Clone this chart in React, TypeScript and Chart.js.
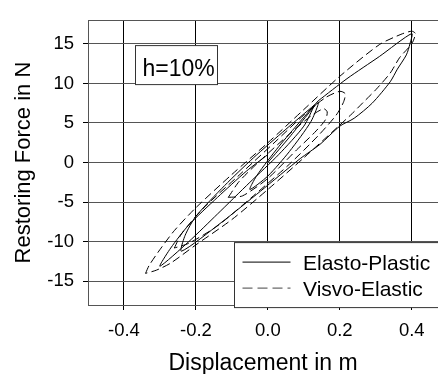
import React, { useEffect, useRef } from 'react';
import { Chart, registerables } from 'chart.js';

Chart.register(...registerables);

// ---- axis / labels ----
const xTickValues = [-0.4, -0.2, 0.0, 0.2, 0.4];
const yTickValues = [-15, -10, -5, 0, 5, 10, 15];
const xMin = -0.5;
const xMax = 0.473;
const yMin = -18;
const yMax = 18;
const xTitle = 'Displacement in m';
const yTitle = 'Restoring Force in N';
const seriesNames = ['Elasto-Plastic', 'Visvo-Elastic'];
const annotationText = 'h=10%';

// ---- Elasto-Plastic (solid) loops: [displacement, force] ----
const epInner: [number, number][] = [
  [0.0, 0.0], [0.06, 3.2], [0.14, 7.6], [0.12, 5.2], [0.06, 1.4], [0.0, -1.7],
  [-0.05, -3.4], [-0.03, -1.6], [0.03, 2.0], [0.09, 5.2], [0.14, 7.8],
];
const epMain: [number, number][] = [
  [0.14, 7.8], [0.22, 10.6], [0.31, 13.4], [0.4, 16.3], [0.395, 15.0], [0.385, 13.6],
  [0.36, 11.8], [0.34, 10.2], [0.29, 7.5], [0.24, 5.6], [0.2, 4.6], [0.145, 2.3],
  [0.09, 0.5], [-0.02, -3.6], [-0.13, -7.6], [-0.24, -11.2], [-0.23, -9.2],
  [-0.2, -6.8], [-0.12, -2.9], [-0.04, 0.6], [0.05, 4.2], [0.13, 7.3],
];
const epReturn: [number, number][] = [
  [0.13, 7.3], [0.1, 4.6], [0.03, 1.0], [-0.05, -2.5], [-0.14, -6.5], [-0.22, -10.0],
  [-0.3, -13.1], [-0.27, -10.8], [-0.22, -7.9], [-0.14, -4.4], [-0.06, -1.1], [0.0, 1.0],
];

// ---- Visvo-Elastic (dashed) loops ----
const veOuter: [number, number][] = [
  [-0.34, -14.0], [-0.33, -13.0], [-0.3, -11.0], [-0.26, -8.6], [-0.2, -5.7], [-0.1, -1.5],
  [0.0, 2.5], [0.1, 6.7], [0.2, 10.9], [0.31, 14.9], [0.37, 16.2], [0.4, 16.6], [0.41, 16.3],
  [0.4, 15.0], [0.367, 13.3], [0.34, 11.3], [0.3, 9.2], [0.265, 7.6], [0.23, 6.0], [0.1, 0.6],
  [0.0, -3.4], [-0.1, -7.2], [-0.2, -10.4], [-0.27, -12.7], [-0.31, -13.6], [-0.34, -14.0],
];
const veMid: [number, number][] = [
  [-0.26, -10.8], [-0.24, -9.0], [-0.18, -5.8], [-0.08, -1.6], [0.02, 2.6], [0.1, 6.0],
  [0.16, 8.2], [0.2, 9.0], [0.215, 8.7], [0.21, 7.6], [0.19, 6.0], [0.14, 3.4], [0.06, -0.2],
  [-0.04, -4.2], [-0.14, -8.0], [-0.22, -10.2], [-0.26, -10.8],
];
const veSmall: [number, number][] = [
  [-0.11, -4.4], [-0.08, -2.4], [-0.02, 0.3], [0.06, 3.6], [0.12, 5.9], [0.155, 6.8],
  [0.165, 6.4], [0.16, 5.4], [0.13, 3.8], [0.08, 1.6], [0.0, -2.0], [-0.07, -4.2], [-0.11, -4.4],
];

const FONT = '"Liberation Sans", Arial, Helvetica, sans-serif';
const DASH = [8, 4];

const toPts = (arr: [number, number][]) => arr.map(([x, y]) => ({ x, y }));

const overlayPlugin = {
  id: 'overlay',
  afterDatasetsDraw(chart: any) {
    const { ctx, chartArea: a } = chart;
    ctx.save();
    // top frame line
    ctx.strokeStyle = '#555';
    ctx.lineWidth = 1;
    ctx.setLineDash([]);
    ctx.beginPath();
    ctx.moveTo(a.left, Math.round(a.top) + 0.5);
    ctx.lineTo(a.right, Math.round(a.top) + 0.5);
    ctx.stroke();

    // annotation box
    const bx = a.left + 47.5, by = a.top + 25.5, bw = 82, bh = 39;
    ctx.fillStyle = '#fff';
    ctx.fillRect(bx, by, bw, bh);
    ctx.strokeStyle = '#333';
    ctx.strokeRect(bx, by, bw, bh);
    ctx.fillStyle = '#000';
    ctx.font = `23px ${FONT}`;
    ctx.textAlign = 'left';
    ctx.textBaseline = 'alphabetic';
    ctx.fillText(annotationText, bx + 7, by + 30);

    // legend box
    const lx = a.left + 146.5, ly = a.top + 222.5, lw = 220, lh = 65;
    ctx.fillStyle = '#fff';
    ctx.fillRect(lx, ly, lw, lh);
    ctx.strokeStyle = '#333';
    ctx.strokeRect(lx, ly, lw, lh);
    const rows = [
      { name: seriesNames[0], dash: [] as number[], color: '#000', y: ly + 19.5 },
      { name: seriesNames[1], dash: [10, 5], color: '#444', y: ly + 45.5 },
    ];
    ctx.font = `21px ${FONT}`;
    rows.forEach((r) => {
      ctx.strokeStyle = r.color;
      ctx.setLineDash(r.dash);
      ctx.beginPath();
      ctx.moveTo(lx + 8, r.y);
      ctx.lineTo(lx + 56, r.y);
      ctx.stroke();
      ctx.fillStyle = '#000';
      ctx.fillText(r.name, lx + 68.5, r.y + 7.5);
    });
    ctx.restore();
  },
};

export default function App() {
  const ref = useRef<HTMLCanvasElement | null>(null);

  useEffect(() => {
    document.body.style.margin = '0';
    const canvas = ref.current;
    if (!canvas) return;
    const loops = [
      { data: epInner, dash: [] as number[] },
      { data: epMain, dash: [] as number[] },
      { data: epReturn, dash: [] as number[] },
      { data: veOuter, dash: DASH },
      { data: veMid, dash: DASH },
      { data: veSmall, dash: DASH },
    ];
    const chart = new Chart(canvas, {
      type: 'scatter',
      data: {
        datasets: loops.map((l, i) => ({
          label: i < 3 ? seriesNames[0] : seriesNames[1],
          data: toPts(l.data),
          showLine: true,
          borderColor: '#000',
          borderWidth: 1,
          borderDash: l.dash,
          pointRadius: 0,
          tension: 0.25,
          fill: false,
        })),
      },
      options: {
        animation: false,
        responsive: false,
        devicePixelRatio: 1,
        layout: { padding: { top: 8, left: 0, right: 0, bottom: 0 } },
        plugins: { legend: { display: false }, tooltip: { enabled: false } },
        scales: {
          x: {
            type: 'linear',
            min: xMin,
            max: xMax,
            afterBuildTicks: (s: any) => { s.ticks = xTickValues.map((v) => ({ value: v })); },
            afterFit: (s: any) => { s.height = 69; },
            ticks: {
              color: '#000',
              font: { family: FONT, size: 18.5 },
              padding: 10,
              maxRotation: 0,
              callback: (v: any) => Number(v).toFixed(1),
            },
            grid: { color: '#000', lineWidth: 1, tickLength: 5, tickColor: '#000' },
            border: { color: '#555', width: 1 },
            title: {
              display: true,
              text: xTitle,
              color: '#000',
              font: { family: FONT, size: 23 },
              padding: { top: 0, bottom: -3.5 },
            },
          },
          y: {
            type: 'linear',
            min: yMin,
            max: yMax,
            afterBuildTicks: (s: any) => { s.ticks = yTickValues.map((v) => ({ value: v })); },
            afterFit: (s: any) => { s.width = 88; },
            ticks: {
              color: '#000',
              font: { family: FONT, size: 18.5 },
              padding: 9,
              callback: (v: any) => String(v),
            },
            grid: { color: '#555', lineWidth: 1, tickLength: 5, tickColor: '#000' },
            border: { color: '#555', width: 1 },
            title: {
              display: true,
              text: yTitle,
              color: '#000',
              font: { family: FONT, size: 22 },
              padding: { top: 11, bottom: 0 },
            },
          },
        },
      },
      plugins: [overlayPlugin],
    });
    return () => chart.destroy();
  }, []);

  return (
    <div style={{ width: 438, height: 374, background: '#fff' }}>
      <canvas ref={ref} width={438} height={374} style={{ display: 'block' }} />
    </div>
  );
}
